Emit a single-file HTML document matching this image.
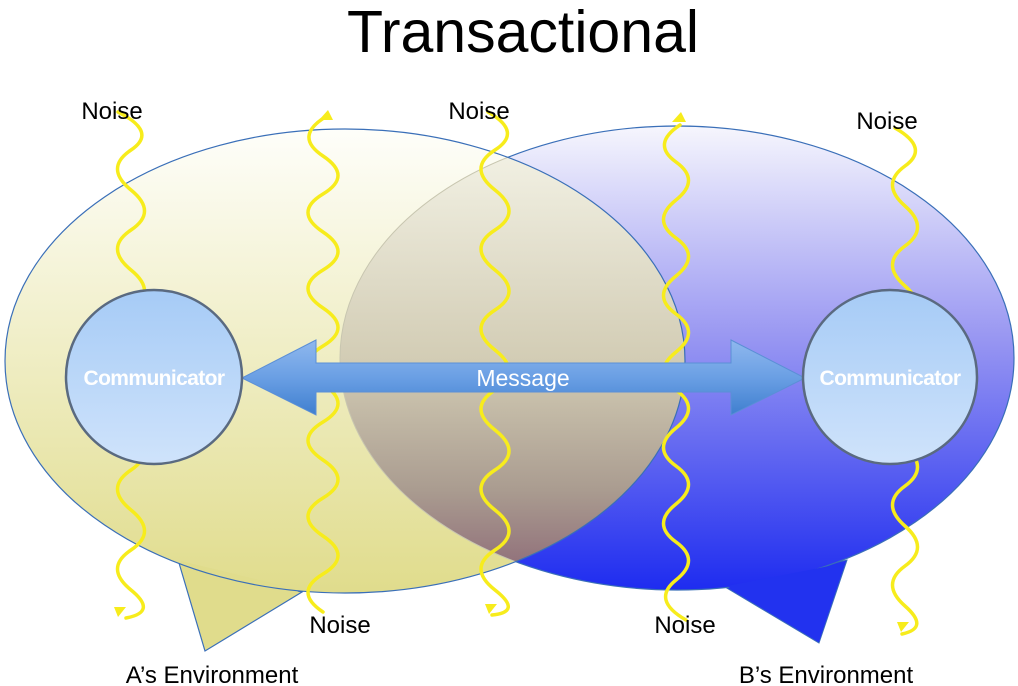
<!DOCTYPE html>
<html><head><meta charset="utf-8"><style>
html,body{margin:0;padding:0;background:#fff;}
svg{display:block;}
text{font-family:"Liberation Sans",sans-serif;}
</style></head><body>
<svg width="1018" height="686" viewBox="0 0 1018 686" xmlns="http://www.w3.org/2000/svg">
<defs>
<linearGradient id="gb" x1="0" y1="0" x2="0" y2="1">
<stop offset="0" stop-color="#f6f6fd"/><stop offset="0.45" stop-color="#9a98f2"/><stop offset="1" stop-color="#1e2cf0"/>
</linearGradient>
<linearGradient id="gy" x1="0" y1="0" x2="0" y2="1">
<stop offset="0" stop-color="#fefefa"/><stop offset="1" stop-color="#e0dc8c"/>
</linearGradient>
<linearGradient id="go" gradientUnits="userSpaceOnUse" x1="0" y1="150" x2="0" y2="575">
<stop offset="0" stop-color="#f2f1e4"/><stop offset="0.5" stop-color="#d2ccb4"/><stop offset="0.8" stop-color="#aa9c90"/><stop offset="1" stop-color="#8e6c78"/>
</linearGradient>
<linearGradient id="gc" x1="0" y1="0" x2="0" y2="1">
<stop offset="0" stop-color="#a6cbf6"/><stop offset="1" stop-color="#cfe3fb"/>
</linearGradient>
<linearGradient id="ga" x1="0" y1="0" x2="0" y2="1">
<stop offset="0" stop-color="#8fb8ee"/><stop offset="0.5" stop-color="#6a9fe4"/><stop offset="1" stop-color="#3f7fcf"/>
</linearGradient>
<clipPath id="cy"><ellipse cx="345" cy="361" rx="340" ry="232"/></clipPath>
</defs>
<text x="523" y="52" font-size="59" text-anchor="middle" fill="#000">Transactional</text>

<!-- B environment -->
<path d="M725 587 L819 643 L847 560 Z" fill="#2433ee" stroke="#3a6fb8" stroke-width="1"/>
<ellipse cx="677" cy="358" rx="337" ry="232" fill="url(#gb)" stroke="#3a6fb8" stroke-width="1.2"/>
<path d="M727 586 L819 642 L845 563" fill="#2232ef"/>
<!-- A environment -->
<path d="M179 563 L205 651 L302 592 Z" fill="#e0dc8c" stroke="#3a6fb8" stroke-width="1.2"/>
<ellipse cx="345" cy="361" rx="340" ry="232" fill="url(#gy)"/>
<path d="M181 561 L205 648 L300 590 Z" fill="#e0dc8c"/>
<!-- overlap -->
<ellipse cx="677" cy="358" rx="337" ry="232" fill="url(#go)" clip-path="url(#cy)" stroke="#c8c6b0" stroke-width="1"/>
<ellipse cx="345" cy="361" rx="340" ry="232" fill="none" stroke="#3a6fb8" stroke-width="1.2"/>

<!-- noise waves -->
<g fill="none" stroke="#f7ec1c" stroke-width="3.5" stroke-linecap="round">
<path d="M118 112 q40 20 13 38 t0 40 t0 40 t0 40 t0 40 t0 40 t0 40 t0 40 t0 40 t0 40 t0 40 t0 40 t-5 28"/>
<path d="M323 612 q-30 -20 0 -38 t0 -38 t0 -38 t0 -38 t0 -38 t0 -38 t0 -38 t0 -38 t0 -38 t0 -38 t0 -38 t0 -38 t4 -40"/>
<path d="M488 112 q35 20 7 38 t0 40 t0 40 t0 40 t0 40 t0 40 t0 40 t0 40 t0 40 t0 40 t0 40 t0 40 t-3 25"/>
<path d="M686 620 q-35 -20 -10 -40 t0 -38 t0 -38 t0 -38 t0 -38 t0 -38 t0 -38 t0 -38 t0 -38 t0 -38 t0 -38 t0 -38 t4 -37"/>
<path d="M895 128 q35 20 10 38 t0 40 t0 40 t0 40 t0 40 t0 40 t0 40 t0 40 t0 40 t0 40 t0 40 t0 40 t-3 28"/>
</g>
<g fill="#f7ec1c">
<path d="M118 617 l8 -10 l-12 0 z"/>
<path d="M328 110 l-9 10 l14 0 z"/>
<path d="M489 614 l8 -10 l-12 0 z"/>
<path d="M681 112 l-9 10 l14 0 z"/>
<path d="M901 632 l8 -10 l-12 0 z"/>
</g>

<!-- arrow -->
<path d="M242 378 L316 340 L316 363 L731 363 L731 340 L805 378 L731 415 L731 392 L316 392 L316 415 Z" fill="url(#ga)" stroke="#5b8fd6" stroke-width="1"/>
<text x="523" y="386" font-size="23" fill="#fff" text-anchor="middle">Message</text>

<!-- communicators -->
<ellipse cx="154" cy="377" rx="88" ry="87" fill="url(#gc)" stroke="#5a6a80" stroke-width="2.5"/>
<ellipse cx="890" cy="377" rx="87" ry="87" fill="url(#gc)" stroke="#5a6a80" stroke-width="2.5"/>
<text x="154" y="385" font-size="21" font-weight="bold" fill="#fff" text-anchor="middle" letter-spacing="-0.6">Communicator</text>
<text x="890" y="385" font-size="21" font-weight="bold" fill="#fff" text-anchor="middle" letter-spacing="-0.6">Communicator</text>

<!-- labels -->
<g font-size="24" fill="#000" text-anchor="middle">
<text x="112" y="119">Noise</text>
<text x="479" y="119">Noise</text>
<text x="887" y="129">Noise</text>
<text x="340" y="633">Noise</text>
<text x="685" y="633">Noise</text>
<text x="212" y="683">A’s Environment</text>
<text x="826" y="683">B’s Environment</text>
</g>
</svg>
</body></html>
